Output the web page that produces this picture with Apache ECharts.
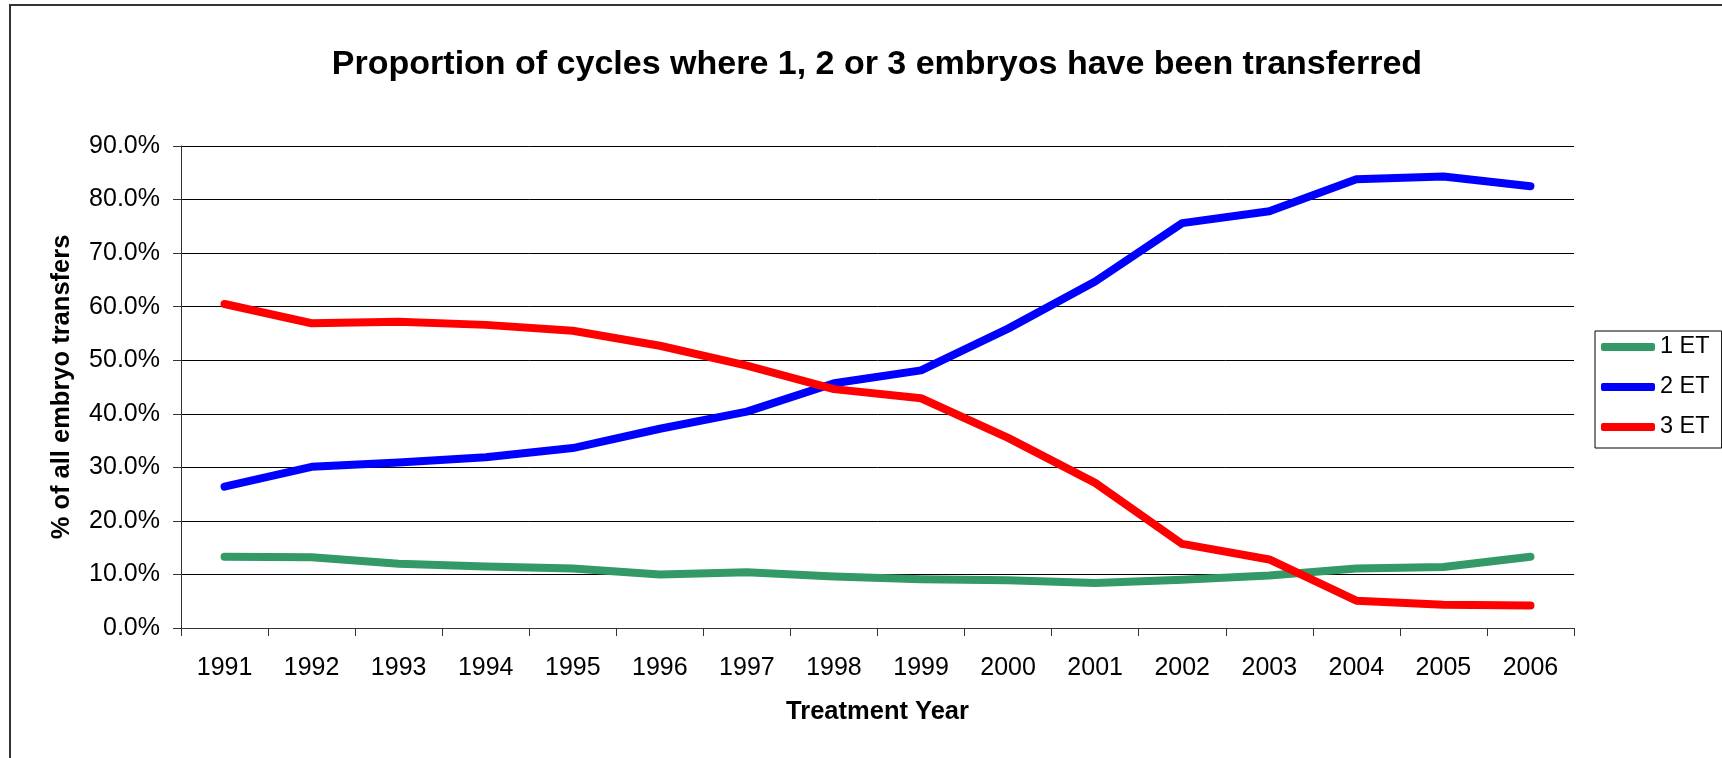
<!DOCTYPE html>
<html>
<head>
<meta charset="utf-8">
<script src="https://cdn.jsdelivr.net/npm/echarts@6/dist/echarts.min.js"></script>
<style>
html,body{margin:0;padding:0;background:#fff;}
#c{width:1722px;height:758px;}
</style>
</head>
<body>
<div id="c"></div>
<script>
const years = ['1991','1992','1993','1994','1995','1996','1997','1998','1999','2000','2001','2002','2003','2004','2005','2006'];
const et1 = [13.3, 13.2, 12.0, 11.5, 11.1, 10.0, 10.4, 9.6, 9.1, 8.9, 8.4, 9.0, 9.8, 11.1, 11.4, 13.3];
const et2 = [26.4, 30.1, 30.9, 31.9, 33.6, 37.2, 40.4, 45.7, 48.1, 55.9, 64.7, 75.6, 77.8, 83.8, 84.3, 82.5];
const et3 = [60.5, 56.9, 57.2, 56.6, 55.5, 52.7, 49.0, 44.6, 42.9, 35.5, 27.1, 15.7, 12.8, 5.1, 4.35, 4.2];
const seriesNames = ['1 ET', '2 ET', '3 ET'];
const seriesColors = ['#339966', '#0000FF', '#FF0000'];

const FONT = '"Liberation Sans", Arial, sans-serif';
const chart = echarts.init(document.getElementById('c'), null, {renderer: 'canvas'});

function lineSeries(name, data, color) {
  return {
    name: name,
    type: 'line',
    data: data,
    showSymbol: false,
    symbol: 'none',
    color: color,
    lineStyle: {width: 8, color: color, cap: 'round', join: 'round'},
    emphasis: {disabled: true},
    animation: false
  };
}

chart.setOption({
  animation: false,
  backgroundColor: '#fff',
  textStyle: {fontFamily: FONT},
  title: {
    text: 'Proportion of cycles where 1, 2 or 3 embryos have been transferred',
    left: 872,
    top: 43,
    textAlign: 'center',
    textStyle: {fontFamily: FONT, fontSize: 34, fontWeight: 'bold', color: '#000'}
  },
  graphic: [{
    type: 'rect',
    shape: {x: 10, y: 5, width: 1800, height: 800},
    style: {fill: 'none', stroke: '#333', lineWidth: 2},
    silent: true,
    z: 100
  }],
  legend: {
    orient: 'vertical',
    left: 1595,
    top: 331,
    data: seriesNames,
    icon: 'roundRect',
    itemWidth: 54,
    itemHeight: 8,
    itemGap: 16,
    itemTextGap: 4,
    padding: [4, 12, 9, 6],
    borderColor: '#000',
    borderWidth: 1,
    backgroundColor: '#fff',
    textStyle: {fontFamily: FONT, fontSize: 23.5, color: '#000'}
  },
  grid: {left: 181, right: 148, top: 146, bottom: 130, containLabel: false},
  xAxis: {
    type: 'category',
    data: years,
    boundaryGap: true,
    name: 'Treatment Year',
    nameLocation: 'middle',
    nameGap: 71,
    nameTextStyle: {fontFamily: FONT, fontSize: 25.5, fontWeight: 'bold', color: '#000'},
    axisLine: {lineStyle: {color: '#333', width: 1}},
    axisTick: {show: true, length: 8, inside: false, lineStyle: {color: '#333'}},
    axisLabel: {fontFamily: FONT, fontSize: 25, color: '#000', margin: 27.5, interval: 0}
  },
  yAxis: {
    type: 'value',
    min: 0,
    max: 90,
    interval: 10,
    name: '% of all embryo transfers',
    nameLocation: 'middle',
    nameRotate: 90,
    nameGap: 106,
    nameTextStyle: {fontFamily: FONT, fontSize: 25.5, fontWeight: 'bold', color: '#000'},
    axisLine: {show: true, lineStyle: {color: '#333', width: 1}},
    axisTick: {show: true, length: 8, inside: false, lineStyle: {color: '#333'}},
    axisLabel: {fontFamily: FONT, fontSize: 25, color: '#000', margin: 21,
      formatter: function (v) { return v.toFixed(1) + '%'; }},
    splitLine: {show: true, lineStyle: {color: '#000', width: 1}}
  },
  series: [
    lineSeries(seriesNames[0], et1, seriesColors[0]),
    lineSeries(seriesNames[1], et2, seriesColors[1]),
    lineSeries(seriesNames[2], et3, seriesColors[2])
  ]
});
</script>
</body>
</html>
